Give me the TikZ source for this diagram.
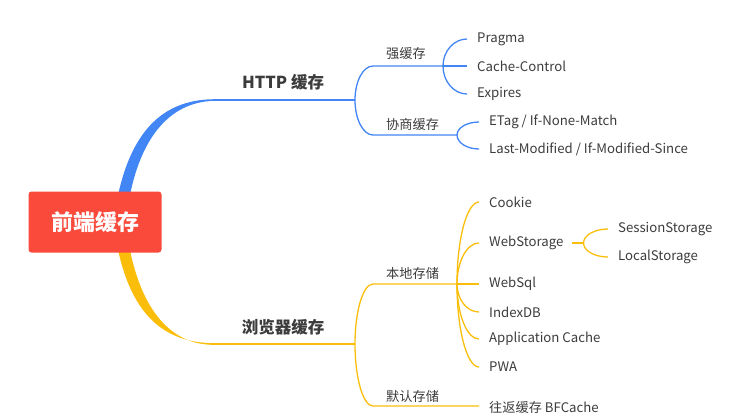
\documentclass[tikz,border=0pt]{standalone}
\usepackage{fontspec}
\setmainfont{Noto Sans CJK SC}
\usetikzlibrary{calc}
\definecolor{rootred}{RGB}{250,74,60}
\definecolor{httpblue}{RGB}{66,133,244}
\definecolor{cacheyellow}{RGB}{250,190,10}
\definecolor{txtgray}{RGB}{60,60,60}
\begin{document}
\begin{tikzpicture}[x=1pt,y=-1pt,
	leaf/.style={anchor=west,inner sep=0pt,text=txtgray,font=\fontsize{13.2}{15}\selectfont},
	main/.style={inner sep=0pt,text=txtgray,font=\fontsize{16.5}{18}\selectfont\bfseries},
	blueline/.style={draw=httpblue,line width=1.3pt},
	yellowline/.style={draw=cacheyellow,line width=1.3pt},
	curveto/.style args={#1 to #2}{insert path={(#1) .. controls ($(#1)!0.55!(#1 |- #2)$) and ($(#2)!0.55!(#1 |- #2)$) .. (#2)}}]
		\useasboundingbox (0,0) rectangle (735,415);
		
		% tapered main branches
		\fill[httpblue] (117,200) .. controls (130,135) and (160,99.2) .. (215,99.2) -- (215,100.8) .. controls (168,101.6) and (140,140) .. (129,200) -- cycle;
		\fill[cacheyellow] (117,245) .. controls (130,310) and (160,343.2) .. (215,343.2) -- (215,344.8) .. controls (168,345.6) and (140,305) .. (129,245) -- cycle;
		
		\node[fill=rootred,rounded corners=3pt,minimum width=133pt,minimum height=61pt,text=white,font=\fontsize{22}{24}\selectfont\bfseries] (root) at (95,222) {前端缓存};
		
		% HTTP cache
		\coordinate (hL) at (215,100);
		\coordinate (hR) at (355,100);
		\node[main] (http) at (283,82) {HTTP 缓存};
		\draw[blueline] (hL) -- (hR);
		
		\coordinate (sA) at (373,66);
		\coordinate (sB) at (443,66);
		\coordinate (nA) at (373,135);
		\coordinate (nB) at (457,135);
		\node[leaf] (strong) at (386,54) {强缓存};
		\node[leaf] (nego) at (386,124) {协商缓存};
		\draw[blueline,curveto={hR to sA}] -- (sB);
		\draw[blueline,curveto={hR to nA}] -- (nB);
		
		\node[leaf] (pragma) at (477,39) {Pragma};
		\node[leaf] (cc) at (477,66) {Cache-Control};
		\node[leaf] (expires) at (477,94) {Expires};
		\coordinate (pragmaE) at ([xshift=-10]pragma.west);
		\coordinate (expiresE) at ([xshift=-10]expires.west);
		\draw[blueline,curveto={sB to pragmaE}];
		\draw[blueline] (sB) -- ([xshift=-10]cc.west);
		\draw[blueline,curveto={sB to expiresE}];
		
		\node[leaf] (etag) at (489,122) {ETag / If-None-Match};
		\node[leaf] (lastmod) at (489,149) {Last-Modified / If-Modified-Since};
		\coordinate (etagE) at ([xshift=-10]etag.west);
		\coordinate (lastmodE) at ([xshift=-10]lastmod.west);
		\draw[blueline,curveto={nB to etagE}];
		\draw[blueline,curveto={nB to lastmodE}];
		
		% browser cache
		\coordinate (bL) at (215,344);
		\coordinate (bR) at (355,344);
		\node[main] (browser) at (283,327) {浏览器缓存};
		\draw[yellowline] (bL) -- (bR);
		
		\coordinate (lA) at (373,284);
		\coordinate (lB) at (457,284);
		\coordinate (dA) at (373,406);
		\node[leaf] (local) at (386,273) {本地存储};
		\node[leaf] (default) at (386,396) {默认存储};
		\draw[yellowline,curveto={bR to lA}] -- (lB);
		
		\node[leaf] (cookie) at (489,202) {Cookie};
		\node[leaf] (webstorage) at (489,243) {WebStorage};
		\node[leaf] (websql) at (489,284) {WebSql};
		\node[leaf] (indexdb) at (489,312) {IndexDB};
		\node[leaf] (appcache) at (489,339) {Application Cache};
		\node[leaf] (pwa) at (489,367) {PWA};
		\node[leaf] (bfcache) at (489,407) {往返缓存 BFCache};
		\draw[yellowline,curveto={bR to dA}] -- ([xshift=-10]bfcache.west |- dA);
		
		\coordinate (cookieE) at ([xshift=-10]cookie.west);
		\coordinate (webstorageE) at ([xshift=-10]webstorage.west);
		\coordinate (indexdbE) at ([xshift=-10]indexdb.west);
		\coordinate (appcacheE) at ([xshift=-10]appcache.west);
		\coordinate (pwaE) at ([xshift=-10]pwa.west);
		\draw[yellowline,curveto={lB to cookieE}];
		\draw[yellowline,curveto={lB to webstorageE}];
		\draw[yellowline] (lB) -- ([xshift=-10]websql.west);
		\draw[yellowline,curveto={lB to indexdbE}];
		\draw[yellowline,curveto={lB to appcacheE}];
		\draw[yellowline,curveto={lB to pwaE}];
		
		\coordinate (wA) at ([xshift=8]webstorage.east);
		\coordinate (wB) at ([xshift=20]webstorage.east);
		\node[leaf] (session) at (618,229) {SessionStorage};
		\node[leaf] (localst) at (618,257) {LocalStorage};
		\coordinate (sessionE) at ([xshift=-10]session.west);
		\coordinate (localstE) at ([xshift=-10]localst.west);
		\draw[yellowline] (wA) -- (wB);
		\draw[yellowline,curveto={wB to sessionE}];
		\draw[yellowline,curveto={wB to localstE}];
		\end{tikzpicture}
\end{document}
